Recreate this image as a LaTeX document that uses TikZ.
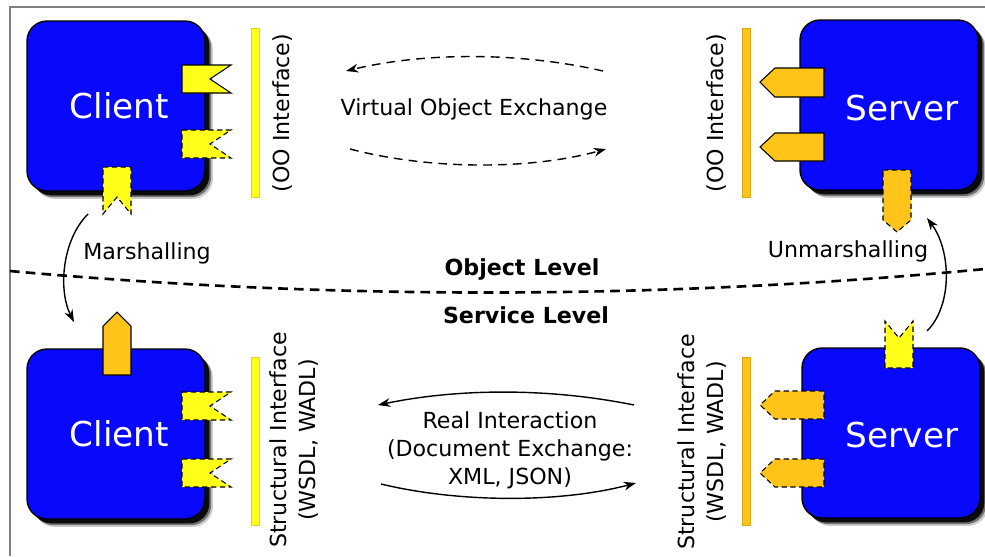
\documentclass[tikz,border=0pt]{standalone}
\usepackage{fontspec}
\setmainfont{DejaVu Sans}
\usetikzlibrary{arrows.meta,positioning,shadows}

\definecolor{compblue}{HTML}{0808FC}
\definecolor{ifyellow}{HTML}{FFFF1A}
\definecolor{iforange}{HTML}{FFC41A}
\definecolor{framegray}{HTML}{808080}

\tikzset{
  component/.style={draw=black, line width=0.8pt, fill=compblue, rounded corners=0.4cm,
    minimum width=3.56cm, minimum height=3.4cm, text=white,
    font=\fontsize{19.5}{23}\selectfont,
    drop shadow={shadow xshift=4.5pt, shadow yshift=-4.5pt, opacity=.2, fill=black},
    drop shadow={shadow xshift=3.5pt, shadow yshift=-3.5pt, opacity=.45, fill=black},
    drop shadow={shadow xshift=2.5pt, shadow yshift=-2.5pt, opacity=.9, fill=black}},
  comptext/.style={text=white, font=\fontsize{19.5}{23}\selectfont},
  socket/.style={draw=black, fill=ifyellow, line width=0.6pt},
  plug/.style={draw=black, fill=iforange, line width=0.6pt},
  broken/.style={dash pattern=on 3pt off 2pt},
  ifbar/.style={draw=#1!85!black, fill=#1, line width=0.4pt},
  lbl/.style={font=\fontsize{12.6}{16}\selectfont, align=center},
  sidelbl/.style={lbl, rotate=90},
  levellbl/.style={font=\bfseries\fontsize{12.6}{16}\selectfont},
  exch/.style={-{Stealth[length=7pt,width=5pt]}, line width=0.8pt},
}

\begin{document}
\begin{tikzpicture}[x=0.02cm, y=-0.02cm]
  \useasboundingbox (0,0) rectangle (985,556);
  \draw[framegray, line width=1.2pt] (10,556) -- (10,7) -- (985,7);

  % object level
  \node[component] (client1) at (116,106) {\hspace*{4pt}Client};
  \node[component] (server1) at (889,105) {};
  \node[comptext] (server1txt) at (902,108) {Server};

  \draw[ifbar=ifyellow] (251,28) rectangle (259,197);
  \draw[ifbar=iforange] (742,28) rectangle (750,197);
  \node[sidelbl] (ooif1) at (283,113) {(OO Interface)};
  \node[sidelbl] (ooif2) at (717,113) {(OO Interface)};

  \draw[socket] (182,65) -- (231,65) -- (210,79) -- (231,93) -- (182,93) -- cycle;
  \draw[socket, broken] (182,130) -- (231,130) -- (210,144) -- (231,158) -- (182,158) -- cycle;
  \draw[socket, broken] (103,167) -- (131,167) -- (131,214) -- (117,197) -- (103,214) -- cycle;
  \draw[plug] (824,68) -- (775,68) -- (760,82) -- (775,97) -- (824,97) -- cycle;
  \draw[plug] (824,133) -- (775,133) -- (760,147) -- (775,161) -- (824,161) -- cycle;
  \draw[plug, broken] (883,170) -- (911,170) -- (911,220) -- (897,232) -- (883,220) -- cycle;

  \node[lbl] (voe) at (474,109) {Virtual Object Exchange};
  \coordinate (voeR1) at (603,71);
  \coordinate (voeL1) at (346,71);
  \coordinate (voeL2) at (350,149);
  \coordinate (voeR2) at (606,149);
  \draw[exch, dash pattern=on 5pt off 3.5pt] (voeR1) .. controls (520,52) and (425,52) .. (voeL1);
  \draw[exch, dash pattern=on 5pt off 3.5pt] (voeL2) .. controls (430,170) and (530,170) .. (voeR2);

  % level border
  \draw[line width=1.5pt, dash pattern=on 5.5pt off 3.5pt] (10,271) .. controls (330,300) and (660,300) .. (985,269);
  \node[levellbl] (objlvl) at (522,269) {Object Level};
  \node[levellbl] (svclvl) at (526,315) {Service Level};

  % marshalling
  \coordinate (marshA) at (88,214);
  \coordinate (marshB) at (74,322);
  \draw[exch] (marshA) .. controls (62,240) and (58,290) .. (marshB);
  \node[lbl] (marsh) at (147,253) {Marshalling};
  \coordinate (unmarshA) at (927,331);
  \coordinate (unmarshB) at (927,218);
  \draw[exch] (unmarshA) .. controls (953,305) and (951,250) .. (unmarshB);
  \node[lbl] (unmarsh) at (848,251) {Unmarshalling};

  % service level
  \node[component] (client2) at (116,434) {\hspace*{4pt}Client};
  \node[component] (server2) at (891,433) {};
  \node[comptext] (server2txt) at (902,435) {Server};

  \draw[ifbar=ifyellow] (251,357) rectangle (259,525);
  \draw[ifbar=iforange] (742,357) rectangle (750,525);
  \node[sidelbl] (stif1) at (294,440) {Structural Interface\\(WSDL, WADL)};
  \node[sidelbl] (stif2) at (702,442) {Structural Interface\\(WSDL, WADL)};

  \draw[plug] (103,375) -- (103,326) -- (117,312) -- (131,326) -- (131,375) -- cycle;
  \draw[socket, broken] (182,392) -- (231,392) -- (210,406) -- (231,420) -- (182,420) -- cycle;
  \draw[socket, broken] (182,459) -- (231,459) -- (210,473) -- (231,487) -- (182,487) -- cycle;
  \draw[socket, broken] (885,368) -- (885,321) -- (899,338) -- (913,321) -- (913,368) -- cycle;
  \draw[plug, broken] (824,391) -- (775,391) -- (760,405) -- (775,419) -- (824,419) -- cycle;
  \draw[plug, broken] (824,459) -- (775,459) -- (760,473) -- (775,487) -- (824,487) -- cycle;

  \node[lbl] (realint) at (510,450) {Real Interaction\\(Document Exchange:\\XML, JSON)};
  \coordinate (riR1) at (634,405);
  \coordinate (riL1) at (378,405);
  \coordinate (riL2) at (381,484);
  \coordinate (riR2) at (636,483);
  \draw[exch] (riR1) .. controls (550,388) and (460,388) .. (riL1);
  \draw[exch] (riL2) .. controls (460,503) and (560,503) .. (riR2);
\end{tikzpicture}
\end{document}
